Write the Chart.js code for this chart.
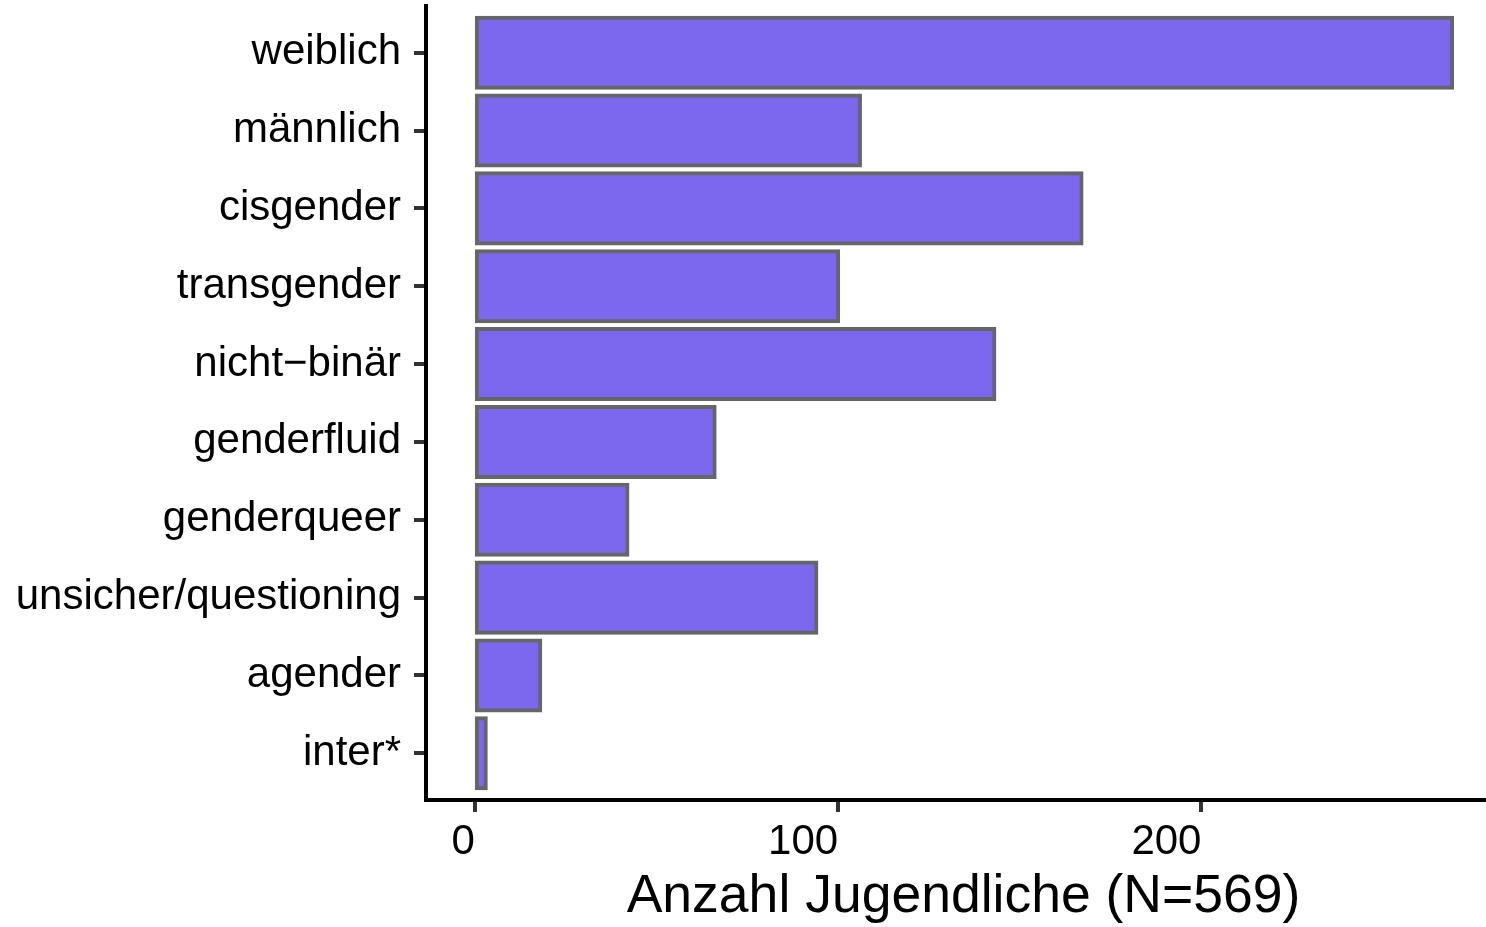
<!DOCTYPE html>
<html>
<head>
<meta charset="utf-8">
<script src="https://cdn.jsdelivr.net/npm/chart.js@4/dist/chart.umd.min.js"></script>
<style>
  html, body { margin: 0; padding: 0; background: #fff; overflow: hidden; }
  canvas { display: block; }
</style>
</head>
<body>
<canvas id="chart" width="1501" height="927"></canvas>
<script>
  // Werte
  const categories = [
    'weiblich',
    'männlich',
    'cisgender',
    'transgender',
    'nicht\u2212binär',
    'genderfluid',
    'genderqueer',
    'unsicher/questioning',
    'agender',
    'inter*'
  ]
  const counts = [269, 106, 167, 100, 143, 66, 42, 94, 18, 3]
  const xTicks = [0, 100, 200]
  const xTitle = 'Anzahl Jugendliche (N=569)'

  const fontFamily = '"Liberation Sans", Arial, Helvetica, sans-serif'
  const maxCount = Math.max(...counts)

  const ctx = document.getElementById('chart')
  // eslint-disable-next-line no-unused-vars
  const myChart = new Chart(ctx, {
    type: 'bar',
    data: {
      datasets: [{
        data: counts.map((v, i) => ({ x: v, y: i })),
        backgroundColor: '#7B68EE',
        borderColor: '#666666',
        borderWidth: 4,
        borderSkipped: false,
        inflateAmount: 2,
        barPercentage: 0.9,
        categoryPercentage: 1.0
      }]
    },
    options: {
      indexAxis: 'y',
      responsive: false,
      animation: false,
      layout: {
        padding: { top: 6, left: 0, right: 0, bottom: 0 }
      },
      plugins: {
        legend: { display: false },
        tooltip: { enabled: false }
      },
      scales: {
        x: {
          type: 'linear',
          position: 'bottom',
          offset: false,
          min: -0.05 * maxCount,
          max: 1.05 * maxCount,
          afterBuildTicks: (scale) => {
            scale.ticks = xTicks.map(v => ({ value: v }))
          },
          afterFit: (scale) => {
            scale.height = 127
            scale.paddingLeft = 0
            scale.paddingRight = 0
          },
          border: { display: true, color: '#000', width: 4 },
          grid: {
            offset: false,
            drawOnChartArea: false,
            drawTicks: true,
            tickLength: 12,
            color: '#333333',
            lineWidth: 4
          },
          ticks: {
            align: 'end',
            padding: 5,
            color: '#000',
            font: { family: fontFamily, size: 42 }
          },
          title: {
            display: true,
            text: xTitle,
            color: '#000',
            padding: { top: 0, bottom: 3 },
            font: { family: fontFamily, size: 53.5, lineHeight: 1 }
          }
        },
        y: {
          type: 'linear',
          reverse: true,
          offset: false,
          min: -0.6,
          max: categories.length - 1 + 0.6,
          afterBuildTicks: (scale) => {
            scale.ticks = categories.map((c, i) => ({ value: i }))
          },
          afterFit: (scale) => {
            scale.width = 426
            scale.paddingTop = 0
            scale.paddingBottom = 0
          },
          border: { display: true, color: '#000', width: 4 },
          grid: {
            offset: false,
            drawOnChartArea: false,
            drawTicks: true,
            tickLength: 12,
            color: '#333333',
            lineWidth: 4
          },
          ticks: {
            padding: 13,
            color: '#000',
            font: { family: fontFamily, size: 42 },
            callback: (value) => categories[value]
          }
        }
      }
    }
  })
</script>
</body>
</html>
